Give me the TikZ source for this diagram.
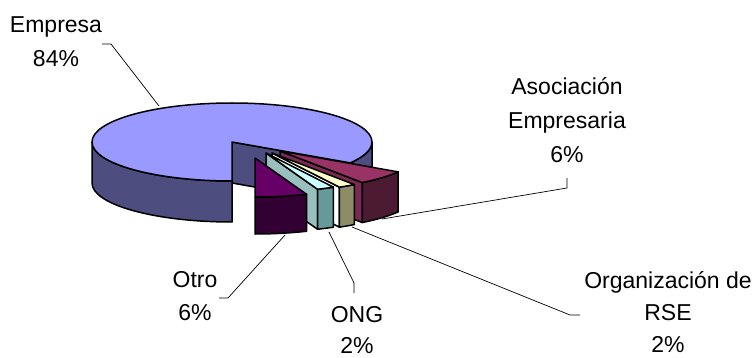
\documentclass[tikz,border=0pt]{standalone}
\usepackage{fontspec}
\setmainfont{Liberation Sans}
\usepackage{tikz}
\usetikzlibrary{calc}
\definecolor{empTop}{HTML}{9999FF}
\definecolor{empSide}{HTML}{4D4D80}
\definecolor{asoTop}{HTML}{993366}
\definecolor{asoSide}{HTML}{4D1A33}
\definecolor{asoFace}{HTML}{7A2952}
\definecolor{rseTop}{HTML}{FFFFCC}
\definecolor{rseSide}{HTML}{8C8C66}
\definecolor{ongTop}{HTML}{CCFFFF}
\definecolor{ongSide}{HTML}{669999}
\definecolor{ongFace}{HTML}{99BFBF}
\definecolor{otroTop}{HTML}{660066}
\definecolor{otroSide}{HTML}{330033}
\tikzset{
 outline/.style={draw=black,line width=1.5pt,line join=round},
 leader/.style={draw=black,line width=0.7pt},
 lbl/.style={font=\fontsize{23}{34}\selectfont,align=center,inner sep=0pt,anchor=base}
}
\newcommand{\pieRx}{140}
\newcommand{\pieRy}{39}
% outer rim between two angles
\newcommand{\sideband}[5]{%
 \filldraw[outline,fill=#5] ($(#1)+({\pieRx*cos(#2)},{\pieRy*sin(#2)})$)
  arc[start angle=#2,end angle=#3,x radius=\pieRx,y radius=\pieRy]
  -- ++(0,#4)
  arc[start angle=#3,end angle=#2,x radius=\pieRx,y radius=\pieRy] -- cycle;}
% cut face along one radius
\newcommand{\radialface}[4]{%
 \filldraw[outline,fill=#4] (#1) -- ++({\pieRx*cos(#2)},{\pieRy*sin(#2)})
  -- ++(0,#3) -- ++({-\pieRx*cos(#2)},{-\pieRy*sin(#2)}) -- cycle;}
% top of a slice
\newcommand{\topsector}[4]{%
 \filldraw[outline,fill=#4] (#1) -- ++({\pieRx*cos(#2)},{\pieRy*sin(#2)})
  arc[start angle=#2,end angle=#3,x radius=\pieRx,y radius=\pieRy] -- cycle;}

\begin{document}
\begin{tikzpicture}[x=1pt,y=-1pt]
\useasboundingbox[fill=white] (0,0) rectangle (754,358);

\path (232,142) coordinate[name=cEmp];
\path (280,151) coordinate[name=aAso];
\path (272,153) coordinate[name=aRse];
\path (266,153) coordinate[name=aOng];
\path (255,158) coordinate[name=aOtro];

% Empresa
\radialface{cEmp}{32.4}{41}{empSide}
\sideband{cEmp}{0}{32.4}{41}{empSide}
\sideband{cEmp}{90}{180}{41}{empSide}
\topsector{cEmp}{90}{392.4}{empTop}

% Asociacion Empresaria
\radialface{aAso}{54}{40}{asoFace}
\sideband{aAso}{32.4}{54}{40}{asoSide}
\topsector{aAso}{32.4}{54}{asoTop}

% Organizacion de RSE
\radialface{aRse}{61.2}{40}{white}
\sideband{aRse}{54}{61.2}{40}{rseSide}
\topsector{aRse}{54}{61.2}{rseTop}

% ONG
\radialface{aOng}{68.4}{40}{ongFace}
\sideband{aOng}{61.2}{68.4}{40}{ongSide}
\topsector{aOng}{61.2}{68.4}{ongTop}

% Otro
\sideband{aOtro}{68.4}{90}{37}{otroSide}
\topsector{aOtro}{68.4}{90}{otroTop}

% labels (base = last line)
\path (56,67) node[lbl,name=empLbl] {Empresa\\84\%};
\path (567,163) node[lbl,name=asoLbl] {Asociación\\Empresaria\\6\%};
\path (668,352) node[lbl,font=\fontsize{23}{32}\selectfont,name=rseLbl] {Organización de\\RSE\\2\%};
\path (357,353) node[lbl,font=\fontsize{23}{31}\selectfont,name=ongLbl] {ONG\\2\%};
\path (195,320) node[lbl,font=\fontsize{23}{33}\selectfont,name=otroLbl] {Otro\\6\%};

\path (159,106) coordinate[name=empTip];
\path (111,44) coordinate[name=empBend];
\path (102,44) coordinate[name=empEnd];
\path (382,219) coordinate[name=asoTip];
\path (567,188) coordinate[name=asoBend];
\path (567,178) coordinate[name=asoEnd];
\path (352,227) coordinate[name=rseTip];
\path (570,315) coordinate[name=rseBend];
\path (580,315) coordinate[name=rseEnd];
\path (329,232) coordinate[name=ongTip];
\path (354,283) coordinate[name=ongBend];
\path (354,293) coordinate[name=ongEnd];
\path (285,235) coordinate[name=otroTip];
\path (228,298) coordinate[name=otroBend];
\path (219,298) coordinate[name=otroEnd];

\draw[leader] (empTip) -- (empBend) -- (empEnd);
\draw[leader] (asoTip) -- (asoBend) -- (asoEnd);
\draw[leader] (rseTip) -- (rseBend) -- (rseEnd);
\draw[leader] (ongTip) -- (ongBend) -- (ongEnd);
\draw[leader] (otroTip) -- (otroBend) -- (otroEnd);
\end{tikzpicture}
\end{document}
